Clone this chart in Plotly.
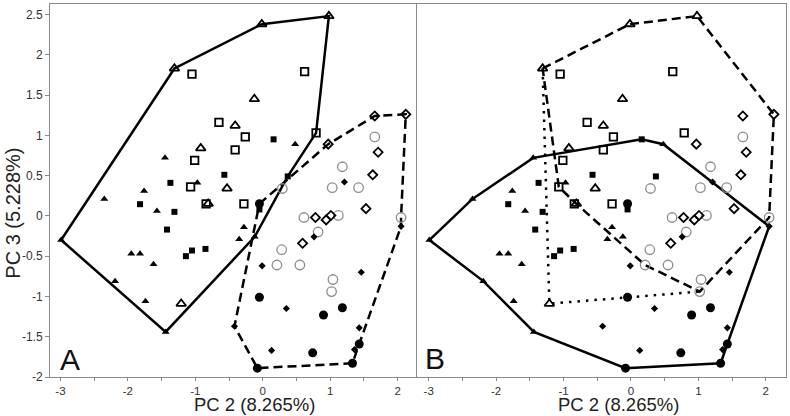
import plotly.graph_objects as go

# ---------------- data (PC2, PC3) ----------------
ft_x = [-1.45, -1.76, -2.35, -1.57, -0.97, -0.28, -0.35, -0.12, 0.48, -1.95, -1.82, -1.62, -2.19, -1.74, -2.99, -1.44]
ft_y = [0.72, 0.31, 0.21, 0.06, 0.41, -0.14, -0.29, -0.26, 0.89, -0.47, -0.47, -0.60, -0.81, -1.06, -0.30, -1.44]

fs_x = [0.16, -0.57, -1.37, -1.82, -1.31, -1.42, -1.14, -1.05, -0.85, 0.37, -0.05]
fs_y = [0.95, 0.51, 0.41, 0.145, 0.05, -0.17, -0.50, -0.43, -0.41, 0.49, 0.08]

ot_x = [-1.31, -0.015, 0.98, -0.125, -0.41, -0.92, -0.53, -0.81, -1.21]
ot_y = [1.83, 2.38, 2.48, 1.45, 1.12, 0.84, 0.34, 0.15, -1.09]

os_x = [-1.05, 0.62, -0.65, -0.26, -0.41, 0.79, -1.01, -1.07, -0.84, -0.28]
os_y = [1.76, 1.79, 1.16, 0.98, 0.82, 1.03, 0.69, 0.36, 0.15, 0.15]

od_x = [1.66, 2.12, 0.97, 1.71, 1.63, 1.53, 0.78, 0.94, 1.01, 0.59]
od_y = [1.24, 1.26, 0.89, 0.79, 0.51, 0.09, -0.02, -0.05, 0.005, -0.34]

gc_x = [1.66, 1.18, 1.03, 1.42, 0.29, 0.61, 1.12, 0.82, 0.28, 0.21, 0.55, 1.04, 1.02, 2.05]
gc_y = [0.98, 0.61, 0.35, 0.35, 0.34, -0.02, 0.005, -0.20, -0.42, -0.61, -0.61, -0.79, -0.94, -0.02]

fd_x = [1.21, 0.76, -0.01, 1.46, 2.05, 0.35, -0.42, 0.13, 1.43, 1.36]
fd_y = [0.42, -0.26, -0.62, -0.70, -0.13, -1.15, -1.37, -1.67, -1.39, -1.66]

fc_x = [-0.05, -0.05, 0.90, 1.18, 0.74, 1.43, 1.33, -0.08]
fc_y = [0.15, -1.01, -1.23, -1.14, -1.70, -1.59, -1.83, -1.89]

# hull outlines (vertices taken from the data points)
hullA_solid_x = [-2.99, -1.31, -0.015, 0.98, 0.79, 0.37, -0.12, -1.44, -2.99]
hullA_solid_y = [-0.30, 1.83, 2.38, 2.48, 1.03, 0.49, -0.26, -1.44, -0.30]
hullA_dash_x = [-0.05, 0.97, 1.66, 2.12, 2.05, 2.05, 1.43, 1.33, -0.08, -0.42, -0.05]
hullA_dash_y = [0.15, 0.89, 1.24, 1.26, -0.02, -0.13, -1.59, -1.83, -1.89, -1.37, 0.15]

hullB_solid_x = [-2.99, -2.35, -1.45, 0.16, 0.48, 1.21, 2.05, 1.43, 1.33, -0.08, -1.44, -2.19, -2.99]
hullB_solid_y = [-0.30, 0.21, 0.72, 0.95, 0.89, 0.42, -0.13, -1.59, -1.83, -1.89, -1.44, -0.81, -0.30]
hullB_dash_x = [-1.31, -0.015, 0.98, 2.12, 2.05, 1.02, 0.21, -0.81, -1.07, -1.31]
hullB_dash_y = [1.83, 2.38, 2.48, 1.26, -0.02, -0.94, -0.61, 0.15, 0.36, 1.83]
hullB_dot_x = [-1.31, -1.21, 1.02]
hullB_dot_y = [1.83, -1.09, -0.94]

x_tickvals = [-3, -2.5, -2, -1.5, -1, -0.5, 0, 0.5, 1, 1.5, 2]
x_ticktext = ["-3", "", "-2", "", "-1", "", "0", "", "1", "", "2"]
y_tickvals = [-2, -1.5, -1, -0.5, 0, 0.5, 1, 1.5, 2, 2.5]
y_ticktext = ["-2", "-1.5", "-1", "-0.5", "0", "0.5", "1", "1.5", "2", "2.5"]

FONT = "Liberation Sans, Arial, sans-serif"
AX = "#8a8a8a"

series = [
    (gc_x, gc_y, dict(symbol="circle-open", size=9.5, color="#8c8c8c", line=dict(width=1.3, color="#8c8c8c"))),
    (od_x, od_y, dict(symbol="diamond-open", size=7, color="black", line=dict(width=1.8, color="black"))),
    (os_x, os_y, dict(symbol="square-open", size=7.5, color="black", line=dict(width=1.8, color="black"))),
    (ot_x, ot_y, dict(symbol="triangle-up-open", size=8.5, color="black", line=dict(width=1.8, color="black"))),
    (fd_x, fd_y, dict(symbol="diamond", size=5.5, color="black", line=dict(width=0))),
    (fs_x, fs_y, dict(symbol="square", size=6, color="black", line=dict(width=0))),
    (ft_x, ft_y, dict(symbol="triangle-up", size=7, color="black", line=dict(width=0))),
    (fc_x, fc_y, dict(symbol="circle", size=9, color="black", line=dict(width=0))),
]

fig = go.Figure()

def add_line(xs, ys, dash, xa, ya):
    fig.add_trace(go.Scatter(x=xs, y=ys, mode="lines", xaxis=xa, yaxis=ya,
                             line=dict(color="black", width=2.5, dash=dash),
                             showlegend=False, hoverinfo="skip"))

add_line(hullA_solid_x, hullA_solid_y, "solid", "x", "y")
add_line(hullA_dash_x, hullA_dash_y, "9px,5px", "x", "y")
add_line(hullB_solid_x, hullB_solid_y, "solid", "x2", "y2")
add_line(hullB_dash_x, hullB_dash_y, "9px,5px", "x2", "y2")
add_line(hullB_dot_x, hullB_dot_y, "2.5px,6px", "x2", "y2")

for xa, ya in [("x", "y"), ("x2", "y2")]:
    for xs, ys, mk in series:
        fig.add_trace(go.Scatter(x=xs, y=ys, mode="markers", xaxis=xa, yaxis=ya,
                                 marker=mk, showlegend=False, hoverinfo="skip"))

xcommon = dict(tickvals=x_tickvals, ticktext=x_ticktext, ticks="outside", ticklen=3,
               tickcolor=AX, showline=True, linecolor=AX, linewidth=1, mirror=True,
               showgrid=False, zeroline=False, tickfont=dict(size=11.5, color="#333", family=FONT))

fig.update_layout(
    width=790, height=416,
    margin=dict(l=50, r=4, t=4, b=39),
    paper_bgcolor="white", plot_bgcolor="white",
    font=dict(family=FONT),
    xaxis=dict(domain=[0, 0.4985], range=[-3.155, 2.285], anchor="y", **xcommon),
    xaxis2=dict(domain=[0.4985, 1], range=[-3.175, 2.30], anchor="y2", **xcommon),
    yaxis=dict(range=[-2, 2.63], anchor="x", tickvals=y_tickvals, ticktext=y_ticktext,
               ticks="outside", ticklen=4, tickcolor=AX, showline=True, linecolor=AX,
               linewidth=1, mirror=False, showgrid=False, zeroline=False,
               tickfont=dict(size=12, color="#333", family=FONT)),
    yaxis2=dict(range=[-2, 2.63], anchor="x2", showticklabels=False, ticks="",
                showline=True, linecolor=AX, linewidth=1, mirror=True,
                showgrid=False, zeroline=False),
    annotations=[
        dict(text="PC 3 (5.228%)", textangle=-90, x=-0.0505, y=0.44, xref="paper", yref="paper",
             showarrow=False, xanchor="center", yanchor="middle",
             font=dict(size=20, color="#222", family=FONT)),
        dict(text="PC 2 (8.265%)", x=0.2785, y=-0.075, xref="paper", yref="paper",
             showarrow=False, xanchor="center", yanchor="middle",
             font=dict(size=18.5, color="#222", family=FONT)),
        dict(text="PC 2 (8.265%)", x=0.7725, y=-0.075, xref="paper", yref="paper",
             showarrow=False, xanchor="center", yanchor="middle",
             font=dict(size=18.5, color="#222", family=FONT)),
        dict(text="A", x=0.0272, y=0.048, xref="paper", yref="paper",
             showarrow=False, xanchor="center", yanchor="middle",
             font=dict(size=30, color="#111", family=FONT)),
        dict(text="B", x=0.523, y=0.05, xref="paper", yref="paper",
             showarrow=False, xanchor="center", yanchor="middle",
             font=dict(size=30, color="#111", family=FONT)),
    ],
)

fig.write_html("out.html", config={"displayModeBar": False},
               post_script="document.body.style.margin='0';document.body.style.overflow='hidden';")
